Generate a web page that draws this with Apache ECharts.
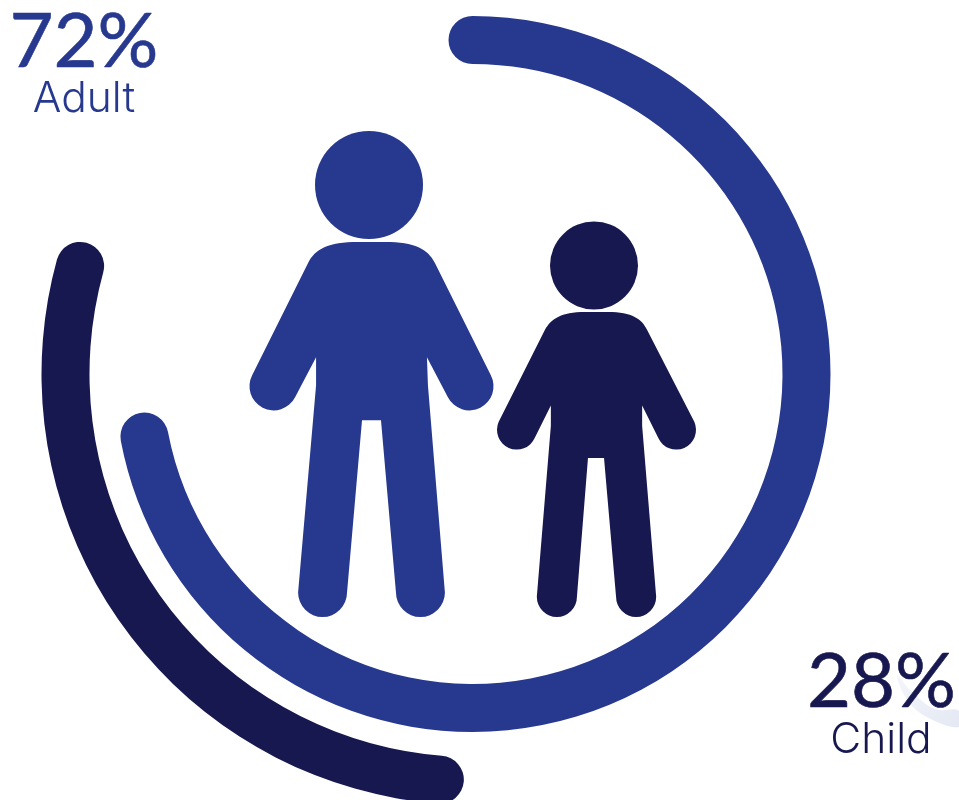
<!DOCTYPE html>
<html>
<head>
<meta charset="utf-8">
<style>html,body{margin:0;padding:0;background:#fff;overflow:hidden}#main{width:959px;height:800px}</style>
<script src="https://cdn.jsdelivr.net/npm/echarts@6/dist/echarts.min.js"></script>
</head>
<body>
<div id="main"></div>
<script>
// Share of adults and children, in percent
const categories = ['Adult', 'Child'];
const shares = [72, 28];
const colors = ['#27388f', '#17184f'];

const hub = [472.5, 374];
const band = 48;

// Ring gauge for one share; the band is measured inward from its outer radius
function ring(value, color, outerRadius, startAngle) {
  return {
    type: 'gauge',
    center: hub,
    radius: outerRadius,
    startAngle: startAngle,
    endAngle: startAngle - 360,
    min: 0,
    max: 100,
    silent: true,
    animation: false,
    pointer: { show: false },
    axisLine: { show: false },
    axisTick: { show: false },
    splitLine: { show: false },
    axisLabel: { show: false },
    title: { show: false },
    detail: { show: false },
    progress: { show: true, roundCap: true, width: band, itemStyle: { color: color } },
    data: [{ value: value }]
  };
}

// Outlines of the two figures, with the box each one fills
const figures = [
  {
    color: colors[0],
    head: [369, 185, 54],
    box: [249.5, 242, 244, 375],
    outline: 'M316 357 L316 385 L298 592 A24.5 24.5 0 0 0 347 592 L362 420 L381 420 L396 592 A24.5 24.5 0 0 0 445 592 L428 385 L427 357 L448 397 A24 24 0 0 0 491 375 L435 263 C428 249 415 242 385 242 L358 242 C328 242 315 249 308 263 L252 375 A24 24 0 0 0 295 397 Z'
  },
  {
    color: colors[1],
    head: [594, 265.5, 44],
    box: [497, 312, 199, 305],
    outline: 'M551 405 L551 425 L537 595 A20 20 0 0 0 577 595 L588 457 L604 457 L616 595 A20 20 0 0 0 656 595 L642 425 L642 405 L658 437 A19.5 19.5 0 0 0 694 421 L647 330 C642 319 632 312 608 312 L585 312 C561 312 551 319 545 330 L499 421 A19.5 19.5 0 0 0 535 437 Z'
  }
];

const figureSeries = {
  type: 'custom',
  coordinateSystem: 'none',
  silent: true,
  animation: false,
  data: [0, 1],
  renderItem: function (params) {
    const f = figures[params.dataIndex];
    return {
      type: 'group',
      children: [
        { type: 'circle', shape: { cx: f.head[0], cy: f.head[1], r: f.head[2] }, style: { fill: f.color } },
        {
          type: 'path',
          shape: { pathData: f.outline, x: f.box[0], y: f.box[1], width: f.box[2], height: f.box[3], layout: 'cover' },
          style: { fill: f.color }
        }
      ]
    };
  }
};

// Large percentages get a hairline stroke to carry a little more weight
function percent(text, cx, baseline, color) {
  return {
    type: 'text',
    x: cx,
    y: baseline,
    z: 10,
    style: {
      text: text,
      fill: color,
      stroke: color,
      lineWidth: 0.6,
      font: '400 76px Lato, sans-serif',
      align: 'center',
      verticalAlign: 'bottom'
    }
  };
}

function caption(text, cx, baseline, color) {
  return {
    type: 'text',
    x: cx,
    y: baseline,
    z: 10,
    style: {
      text: text,
      fill: color,
      font: '300 42.5px Inter, Lato, sans-serif',
      align: 'center',
      verticalAlign: 'bottom'
    }
  };
}

const chart = echarts.init(document.getElementById('main'), null, { renderer: 'canvas' });
chart.setOption({
  backgroundColor: '#ffffff',
  animation: false,
  graphic: {
    elements: [
      // Pale swoosh behind the child figure's percentage
      {
        type: 'polygon',
        z: 1,
        shape: {
          smooth: 0.4,
          points: [[897, 675], [906, 698], [925, 716], [959, 727], [959, 711], [935, 709], [912, 692]]
        },
        style: {
          fill: new echarts.graphic.LinearGradient(0, 0, 1, 1, [
            { offset: 0, color: '#f3f5fa' },
            { offset: 1, color: '#e4e8f3' }
          ])
        }
      },
      percent(shares[0] + '%', 84, 80.5, colors[0]),
      caption(categories[0], 84, 121, colors[0]),
      percent(shares[1] + '%', 881.5, 720.5, colors[1]),
      caption(categories[1], 881, 762, colors[1])
    ]
  },
  series: [
    ring(shares[0], colors[0], 358, 90),
    ring(shares[1], colors[1], 431, -94.6),
    figureSeries
  ]
});
</script>
</body>
</html>
